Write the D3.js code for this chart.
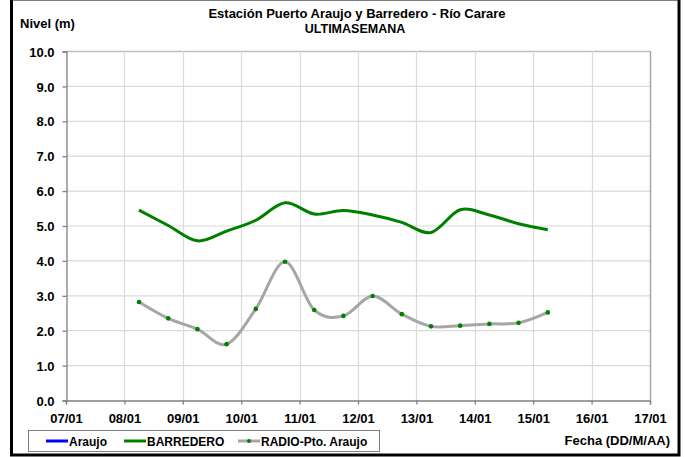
<!DOCTYPE html>
<html>
<head>
<meta charset="utf-8">
<script src="https://cdn.jsdelivr.net/npm/d3@7"></script>
<style>
  body { margin: 0; background: #fff; }
  text { font-family: "Liberation Sans", Arial, sans-serif; font-weight: bold; fill: #000; }
</style>
</head>
<body>
<script>
// readings every 12 h
var fechas = ['2010-01-08T06:00', '2010-01-08T18:00', '2010-01-09T06:00', '2010-01-09T18:00',
  '2010-01-10T06:00', '2010-01-10T18:00', '2010-01-11T06:00', '2010-01-11T18:00',
  '2010-01-12T06:00', '2010-01-12T18:00', '2010-01-13T06:00', '2010-01-13T18:00',
  '2010-01-14T06:00', '2010-01-14T18:00', '2010-01-15T06:00']
var araujo = []  // only in the legend, no data drawn
var barredero = [5.44, 5.00, 4.56, 4.84, 5.15, 5.65, 5.33, 5.43, 5.30, 5.09, 4.80, 5.45, 5.30, 5.05, 4.88]
var radio = [2.81, 2.34, 2.03, 1.60, 2.61, 3.96, 2.58, 2.41, 2.98, 2.46, 2.11, 2.13, 2.18, 2.21, 2.51]
var yTicks = [0, 1, 2, 3, 4, 5, 6, 7, 8, 9, 10]
var xDomain = ['2010-01-07T00:00', '2010-01-17T00:00']
var series = [
  {name: 'Araujo', values: araujo, color: '#0000ff'},
  {name: 'BARREDERO', values: barredero, color: '#008000'},
  {name: 'RADIO-Pto. Araujo', values: radio, color: '#a6a6a6', marker: '#008000'}
]

var parse = d3.timeParse('%Y-%m-%dT%H:%M')
var W = 685, H = 457
var svg = d3.select('body').append('svg').attr('width', W).attr('height', H)

// outer frame
svg.append('rect').attr('x', 11.5).attr('y', -1).attr('width', 667.5).attr('height', 456)
  .attr('fill', 'none').attr('stroke', '#000').attr('stroke-width', 3)

var x = d3.scaleTime().domain(xDomain.map(parse)).range([66, 650])
var y = d3.scaleLinear().domain([0, 10]).range([400, 51])

var g = svg.append('g')

// grid
g.selectAll('line.hg').data(yTicks.slice(1)).enter().append('line')
  .attr('class', 'hg')
  .attr('x1', 66).attr('x2', 650)
  .attr('y1', d => y(d) + 0.5).attr('y2', d => y(d) + 0.5)
  .attr('stroke', d => d == 10 ? '#bfbfbf' : '#d9d9d9').attr('stroke-width', d => d == 10 ? 1.5 : 1.2)
var days = x.ticks(d3.timeDay.every(1))
g.selectAll('line.vg').data(days.slice(1)).enter().append('line')
  .attr('class', 'vg')
  .attr('x1', d => Math.round(x(d)) + 0.5).attr('x2', d => Math.round(x(d)) + 0.5)
  .attr('y1', 51).attr('y2', 400)
  .attr('stroke', (d, i) => i == days.length - 2 ? '#a6a6a6' : '#d9d9d9').attr('stroke-width', (d, i) => i == days.length - 2 ? 1.5 : 1.2)

// axes
var yAxis = d3.axisLeft(y).tickValues(yTicks).tickFormat(d3.format('.1f')).tickSize(4).tickPadding(8)
var xAxis = d3.axisBottom(x).ticks(d3.timeDay.every(1)).tickFormat(d3.timeFormat('%d/%m')).tickSize(4).tickPadding(6)
var ya = svg.append('g').attr('transform', 'translate(66.5,0.5)').call(yAxis)
var xa = svg.append('g').attr('transform', 'translate(0,400.5)').call(xAxis)
;[ya, xa].forEach(a => {
  a.select('.domain').attr('stroke', '#808080').attr('stroke-width', 1.3)
  a.selectAll('.tick line').attr('stroke', '#808080').attr('stroke-width', 1.3)
  a.selectAll('.tick text').style('font-size', '13px').attr('font-family', null).attr('fill', '#000')
})
ya.selectAll('.tick text').attr('dy', '0.36em')
xa.selectAll('.tick text').attr('dy', '0.95em')

// lines
var line = d3.line()
  .x((d, i) => x(parse(fechas[i])))
  .y(d => y(d))
  .curve(d3.curveCardinal.tension(0))

series.forEach(s => {
  if (!s.values.length) return
  g.append('path')
    .attr('fill', 'none')
    .attr('stroke', s.color)
    .attr('stroke-width', 3)
    .attr('stroke-linejoin', 'round')
    .attr('d', line(s.values))
  if (s.marker) {
    g.selectAll('circle.m').data(s.values).enter().append('circle')
      .attr('class', 'm')
      .attr('cx', (d, i) => x(parse(fechas[i])))
      .attr('cy', d => y(d))
      .attr('r', 2.3)
      .attr('fill', s.marker)
  }
})

// titles
svg.append('text').attr('x', 357).attr('y', 18).attr('text-anchor', 'middle').style('font-size', '13px')
  .text('Estación Puerto Araujo y Barredero - Río Carare')
svg.append('text').attr('x', 355).attr('y', 33).attr('text-anchor', 'middle').style('font-size', '12.5px')
  .style('word-spacing', '-3px')
  .text('ULTIMA SEMANA')
svg.append('text').attr('x', 20).attr('y', 28).style('font-size', '13px').text('Nivel (m)')
svg.append('text').attr('x', 670).attr('y', 445).attr('text-anchor', 'end').style('font-size', '13px')
  .text('Fecha (DD/M/AA)')

// legend
svg.append('rect').attr('x', 28.5).attr('y', 430.5).attr('width', 351).attr('height', 21)
  .attr('fill', '#fff').attr('stroke', '#808080').attr('stroke-width', 1)
var legX = [46, 124, 238]
series.forEach((s, i) => {
  var lg = svg.append('g').attr('transform', `translate(${legX[i]},441)`)
  lg.append('line').attr('x1', 0).attr('x2', 22).attr('y1', 0).attr('y2', 0)
    .attr('stroke', s.color).attr('stroke-width', 3)
  if (s.marker) lg.append('circle').attr('cx', 11).attr('cy', 0).attr('r', 2).attr('fill', s.marker)
  lg.append('text').attr('x', 23).attr('y', 4.5).style('font-size', '12px').text(s.name)
})
</script>
</body>
</html>
